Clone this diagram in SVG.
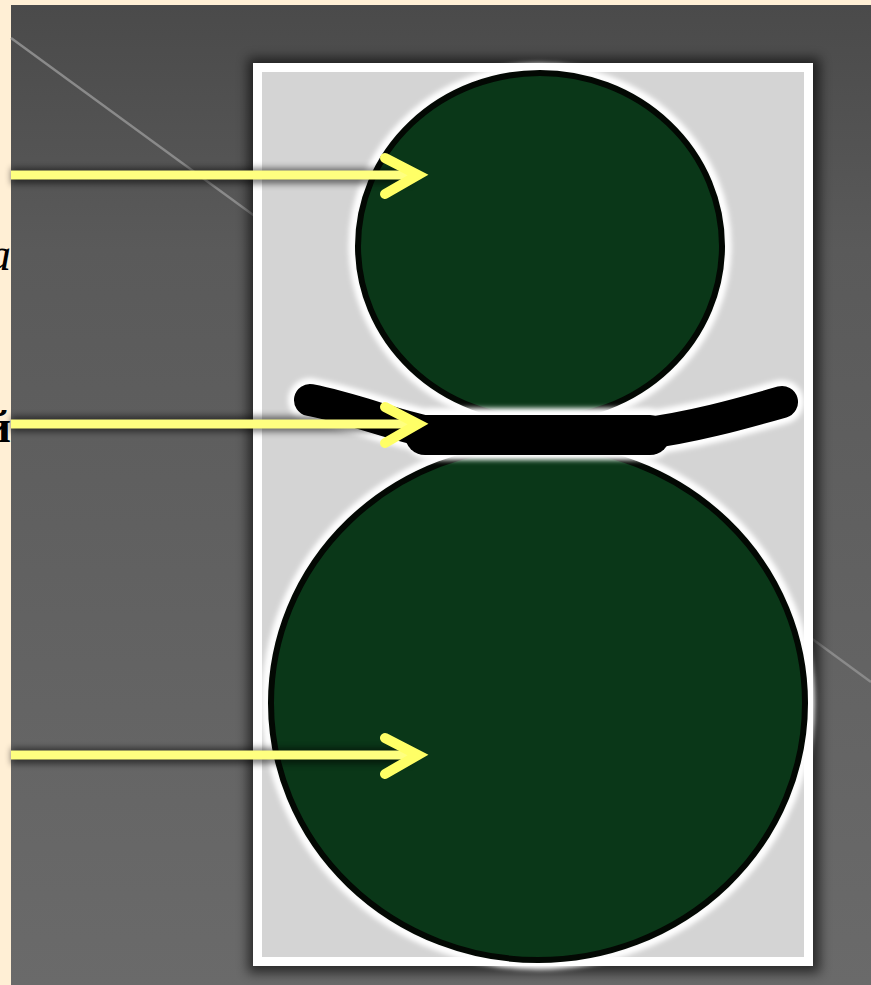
<svg xmlns="http://www.w3.org/2000/svg" width="871" height="985" viewBox="0 0 871 985">
<style>
.arrow{stroke:#FFFF80;stroke-width:9;fill:none;stroke-linecap:butt}
.head{stroke:#FFFF66;stroke-width:10;fill:none;stroke-linejoin:miter;stroke-linecap:round}
.ball{fill:#0A3718;stroke:#030803;stroke-width:6}
.halo{fill:none;stroke:#ffffff;stroke-width:9}
.lbl{font-family:"Liberation Serif",serif;font-size:46px;fill:#000}
.scarf{fill:none;stroke-linecap:round;stroke-linejoin:round}
</style>
<defs>
<linearGradient id="bg" x1="0" y1="0" x2="0" y2="1">
<stop offset="0" stop-color="#4a4a4a"/>
<stop offset="0.25" stop-color="#5a5a5a"/>
<stop offset="1" stop-color="#6a6a6a"/>
</linearGradient>
<filter id="sh" x="-10%" y="-10%" width="120%" height="120%">
<feGaussianBlur stdDeviation="6"/>
</filter>
<filter id="ash" filterUnits="userSpaceOnUse" x="0" y="0" width="871" height="985">
<feGaussianBlur stdDeviation="3"/>
</filter>
<filter id="soft" filterUnits="userSpaceOnUse" x="0" y="0" width="871" height="985">
<feGaussianBlur stdDeviation="2.5"/>
</filter>
</defs>
<rect x="0" y="0" width="871" height="985" fill="#FFEFD5"/>
<rect x="11" y="5" width="860" height="980" fill="url(#bg)"/>
<line x1="11" y1="38" x2="260" y2="220" stroke="#8a8a8a" stroke-width="2.5"/>
<line x1="800" y1="630" x2="871" y2="682" stroke="#8a8a8a" stroke-width="2.5"/>
<g id="photo">
<rect x="248" y="58" width="572" height="915" fill="#000" opacity="0.6" filter="url(#sh)"/>
<rect x="253" y="63" width="560" height="903" fill="#ffffff"/>
<rect x="262" y="72" width="542" height="885" fill="#d4d4d4"/>
</g>
<g id="body-bottom">
<ellipse cx="538" cy="703" rx="272" ry="262" class="halo" filter="url(#soft)"/>
<ellipse cx="538" cy="703" rx="267" ry="257" class="ball"/>
</g>
<g id="head-top">
<ellipse cx="540" cy="246" rx="187" ry="178" class="halo" filter="url(#soft)"/>
<ellipse cx="540" cy="246" rx="182" ry="173" class="ball"/>
</g>
<g id="scarf">
<g filter="url(#soft)" stroke="#ffffff">
<path class="scarf" d="M310,400 C360,410 400,428 440,434 L640,434 C690,428 740,414 782,402" stroke-width="44"/>
<path class="scarf" d="M430,434 L648,434" stroke-width="52" stroke-linecap="butt"/>
</g>
<path class="scarf" d="M310,400 C360,410 400,428 440,434 L640,434 C690,428 740,414 782,402" stroke="#000" stroke-width="32"/>
<path class="scarf" d="M425,435 L650,435" stroke="#000" stroke-width="40" stroke-linecap="butt"/>
</g>
<g id="connectors">
<line x1="11" y1="176" x2="412" y2="176" stroke="#000" stroke-width="16" opacity="0.5" filter="url(#ash)"/>
<line x1="11" y1="424" x2="412" y2="424" stroke="#000" stroke-width="16" opacity="0.5" filter="url(#ash)"/>
<line x1="11" y1="756" x2="412" y2="756" stroke="#000" stroke-width="16" opacity="0.5" filter="url(#ash)"/>
<line x1="11" y1="175" x2="414" y2="175" class="arrow"/>
<polyline points="385,158 418,175 385,194" class="head"/>
<line x1="11" y1="424" x2="414" y2="424" class="arrow"/>
<polyline points="385,407 418,424 385,443" class="head"/>
<line x1="11" y1="755" x2="414" y2="755" class="arrow"/>
<polyline points="385,738 418,755 385,774" class="head"/>
</g>
<g id="labels">
<text x="11" y="270" class="lbl" font-style="italic" text-anchor="end">а</text>
<text x="11" y="442" class="lbl" font-weight="bold" text-anchor="end">й</text>
</g>
</svg>
